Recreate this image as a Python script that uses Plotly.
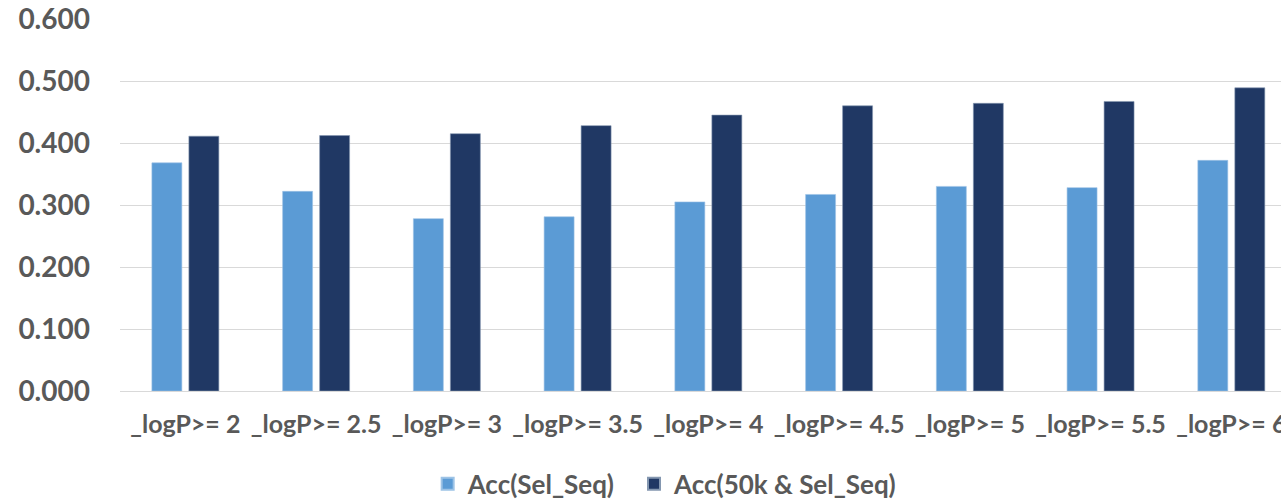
import plotly.graph_objects as go

categories = ["_logP>= 2", "_logP>= 2.5", "_logP>= 3", "_logP>= 3.5", "_logP>= 4",
              "_logP>= 4.5", "_logP>= 5", "_logP>= 5.5", "_logP>= 6"]
acc_sel_seq = [0.368, 0.322, 0.278, 0.281, 0.305, 0.317, 0.330, 0.328, 0.372]
acc_50k_sel_seq = [0.411, 0.412, 0.415, 0.428, 0.445, 0.460, 0.464, 0.467, 0.489]
y_ticks = [0.0, 0.1, 0.2, 0.3, 0.4, 0.5, 0.6]

FONT = "Lato"
GREY = "#595959"

fig = go.Figure()
fig.add_trace(go.Bar(
    x=categories, y=acc_sel_seq, name="Acc(Sel_Seq)", legend="legend",
    marker=dict(color="#5B9BD5", line=dict(color="#9DC3E6", width=0.6)),
))
fig.add_trace(go.Bar(
    x=categories, y=acc_50k_sel_seq, name="Acc(50k & Sel_Seq)", legend="legend2",
    marker=dict(color="#203864", line=dict(color="#8497B0", width=0.6)),
))

legend_font = dict(family=FONT, size=26, color=GREY, weight="bold")

fig.update_layout(
    width=1281, height=501,
    margin=dict(l=120, r=0, t=19, b=110),
    paper_bgcolor="white", plot_bgcolor="white",
    barmode="group", bargap=0.434, bargroupgap=0.19,
    font=dict(family=FONT, color=GREY),
    showlegend=True,
    legend=dict(
        orientation="h", x=0.265, xanchor="left",
        yref="container", y=0.034, yanchor="middle",
        font=legend_font, itemsizing="constant",
    ),
    legend2=dict(
        orientation="h", x=0.4427, xanchor="left",
        yref="container", y=0.034, yanchor="middle",
        font=legend_font, itemsizing="constant",
    ),
    xaxis=dict(
        range=[-0.5, 8.38], showgrid=False, showline=False, zeroline=False,
        ticks="", tickangle=0, automargin=False,
        tickfont=dict(family=FONT, size=25, color=GREY, weight="bold"),
        ticklabelstandoff=16,
    ),
    yaxis=dict(
        range=[0, 0.6], tickvals=y_ticks, tickformat=".3f",
        showgrid=True, gridcolor="#D9D9D9", gridwidth=1.3,
        zeroline=True, zerolinecolor="#D9D9D9", zerolinewidth=1.3,
        showline=False, ticks="", automargin=False,
        tickfont=dict(family=FONT, size=28, color=GREY, weight="bold"),
        ticklabelstandoff=29,
    ),
)

fig.write_html("out.html")
